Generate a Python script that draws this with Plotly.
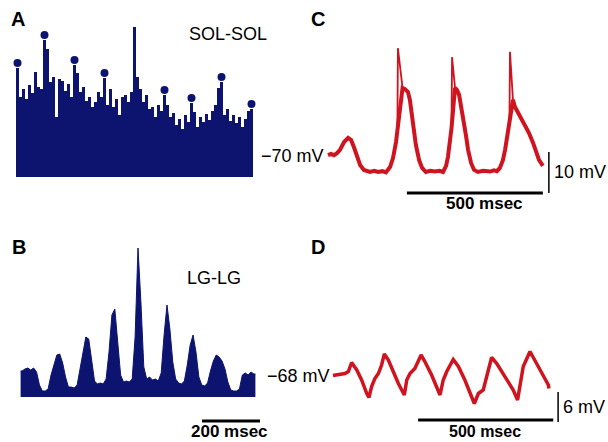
import plotly.graph_objects as go

W, H = 608, 442
NAVY = "#0c1470"
RED = "#cf1420"
FONT = "Liberation Sans, Arial, Helvetica, sans-serif"

# ---- A: SOL-SOL correlogram (counts per bin) ----
sol_counts = [109, 80, 88, 78, 92, 84, 105, 90, 88, 137,
              128, 95, 100, 60, 98, 96, 86, 93, 80, 112,
              104, 85, 90, 76, 80, 70, 75, 85, 80, 99,
              72, 88, 70, 78, 62, 80, 82, 75, 85, 150,
              100, 88, 75, 82, 68, 70, 60, 72, 66, 82,
              72, 60, 64, 52, 58, 48, 62, 55, 74, 65,
              50, 60, 55, 63, 57, 66, 72, 89, 95, 62,
              68, 56, 62, 54, 60, 50, 58, 66, 68]
sol_peak_bins = [0, 9, 19, 29, 49, 58, 68, 78]

# ---- B: LG-LG correlogram (10-ms bins) ----
lg_lags = list(range(-400, 401, 10))
lg_counts = [26, 28, 29, 27, 29, 25, 12, 6, 6, 8,
             22, 32, 42, 43, 34, 20, 10, 10, 9, 12,
             28, 44, 60, 58, 38, 16, 13, 14, 13, 18,
             45, 82, 88, 55, 22, 15, 16, 15, 18, 60,
             149, 95, 30, 18, 20, 17, 18, 16, 24, 62,
             92, 68, 35, 18, 14, 13, 16, 32, 52, 62,
             45, 20, 12, 11, 14, 26, 36, 42, 40, 36,
             28, 15, 7, 6, 6, 8, 22, 24, 22, 25, 23]

# ---- C: SOL membrane potential (ms, mV) ----
c_t = [0, 11, 22, 33, 44, 59, 74, 85, 96, 107, 118, 132, 154, 170, 184, 200, 213,
       228, 239, 250, 255, 274, 283, 294, 301, 309, 316, 323, 335, 346, 360, 376, 393, 410, 423,
       434, 441, 448, 454, 467, 474, 482, 489, 496, 507, 515, 526, 537, 551, 570, 596, 610, 621,
       632, 643, 651, 658, 667, 680, 687, 698, 709, 724, 739, 754, 765, 776, 783, 790]
c_v = [-69.8, -69.5, -69.8, -69.3, -68.5, -66.6, -65.6, -66.1, -68.0, -70.5, -72.2, -73.4, -73.9, -73.6, -73.9, -73.7, -74.0,
       -72.7, -70.5, -66.6, -64.1, -53.4, -53.7, -54.4, -56.3, -60.0, -63.7, -67.3, -71.0, -72.9, -73.9, -73.6, -73.8, -73.6, -73.9,
       -72.4, -70.2, -66.6, -63.2, -53.4, -53.9, -55.1, -57.6, -60.7, -64.9, -68.5, -71.7, -73.4, -73.9, -73.6, -73.8, -73.5, -73.7,
       -72.9, -71.0, -68.5, -65.6, -62.4, -56.3, -58.0, -59.3, -60.7, -62.4, -64.4, -66.8, -69.0, -71.0, -71.7, -72.4]
# truncated action potentials
c_spike_t = [[255, 257, 274], [454, 456, 467], [667, 669, 680]]
c_spike_v = [[-64.1, -43.7, -53.4], [-63.2, -45.9, -53.4], [-62.4, -44.6, -56.3]]

# ---- D: LG membrane potential (ms, mV) ----
d_t = [0, 44, 57, 69, 88, 106, 125, 133, 143, 155, 168, 180, 190, 205, 223, 242, 264,
       273, 285, 303, 326, 340, 365, 390, 396, 408, 421, 445, 464, 488, 513, 523,
       538, 556, 575, 587, 606, 636, 667, 683, 692, 704, 729, 747, 772, 797, 799]
d_v = [-68.1, -67.7, -67.3, -65.5, -67.0, -69.0, -71.7, -72.5, -70.3, -68.7, -67.7, -66.0, -63.8, -65.0, -67.3, -69.7, -72.0,
       -69.0, -67.7, -66.7, -64.0, -65.3, -68.0, -71.0, -72.0, -69.0, -67.3, -64.9, -66.3, -69.0, -72.3, -73.7,
       -71.7, -71.0, -67.0, -64.5, -65.7, -68.3, -71.0, -73.0, -69.7, -66.3, -63.3, -65.0, -67.3, -70.0, -70.7]


def xdom(x0, x1):
    return [x0 / W, x1 / W]


def ydom(y0, y1):
    return [1 - y1 / H, 1 - y0 / H]


fig = go.Figure()

# A: correlogram bars with markers over the periodic peaks
fig.add_trace(go.Bar(x=list(range(len(sol_counts))), y=sol_counts, marker=dict(color=NAVY, line_width=0),
                     width=1.0, xaxis="x", yaxis="y"))
fig.add_trace(go.Scatter(x=sol_peak_bins, y=[sol_counts[i] + 5 for i in sol_peak_bins], mode="markers",
                         marker=dict(color=NAVY, size=8), xaxis="x", yaxis="y"))

# B: correlogram drawn as a filled profile
b_x = [lg_lags[0] - 5] + lg_lags + [lg_lags[-1] + 5]
b_y = [lg_counts[0]] + lg_counts + [lg_counts[-1]]
fig.add_trace(go.Scatter(x=b_x, y=b_y, mode="lines", fill="tozeroy", fillcolor=NAVY,
                         line=dict(color=NAVY, width=1), xaxis="x2", yaxis="y2"))

# C
fig.add_trace(go.Scatter(x=c_t, y=c_v, mode="lines", line=dict(color=RED, width=4), xaxis="x3", yaxis="y3"))
for st, sv in zip(c_spike_t, c_spike_v):
    fig.add_trace(go.Scatter(x=st, y=sv, mode="lines", line=dict(color=RED, width=1.8), xaxis="x3", yaxis="y3"))
# D
fig.add_trace(go.Scatter(x=d_t, y=d_v, mode="lines", line=dict(color=RED, width=3.5), xaxis="x4", yaxis="y4"))

hidden = dict(visible=False, fixedrange=True)
fig.update_layout(
    width=W, height=H, margin=dict(l=0, r=0, t=0, b=0),
    paper_bgcolor="white", plot_bgcolor="rgba(0,0,0,0)",
    showlegend=False, bargap=0,
    xaxis=dict(domain=xdom(10, 260), range=[-2.5, 80.83], anchor="y", **hidden),
    yaxis=dict(domain=ydom(20, 180), range=[-3, 157], anchor="x", **hidden),
    xaxis2=dict(domain=xdom(10, 270), range=[-441.6, 455.4], anchor="y2", **hidden),
    yaxis2=dict(domain=ydom(240, 442), range=[-45, 157], anchor="x2", **hidden),
    xaxis3=dict(domain=xdom(300, 600), range=[-103, 1000], anchor="y3", **hidden),
    yaxis3=dict(domain=ydom(20, 210), range=[-83.17, -36.83], anchor="x3", **hidden),
    xaxis4=dict(domain=xdom(300, 600), range=[-122, 988], anchor="y4", **hidden),
    yaxis4=dict(domain=ydom(230, 442), range=[-81.4, -39], anchor="x4", **hidden),
)

# scale bars
bars = [
    ("x2", "y2", 221, -24, 421, -24, 3),
    ("x3", "y3", 290, -79, 790, -79, 3),
    ("x3", "y3", 812, -79, 812, -69, 1.5),
    ("x4", "y4", 315, -77, 815, -77, 3),
    ("x4", "y4", 833, -77.4, 833, -71.4, 1.5),
]
for xr, yr, x0, y0, x1, y1, w in bars:
    fig.add_shape(type="line", xref=xr, yref=yr, x0=x0, y0=y0, x1=x1, y1=y1,
                  line=dict(color="black", width=w))


def label(text, x, y, xref="paper", yref="paper", size=18, bold=False, xanchor="center"):
    fig.add_annotation(text=f"<b>{text}</b>" if bold else text, x=x, y=y, xref=xref, yref=yref,
                       showarrow=False, xanchor=xanchor, yanchor="middle",
                       font=dict(family=FONT, size=size, color="black"))


# panel letters and titles
label("A", 17.5 / W, 1 - 19.5 / H, size=20, bold=True)
label("B", 18.5 / W, 1 - 247 / H, size=20, bold=True)
label("C", 318 / W, 1 - 19.5 / H, size=20, bold=True)
label("D", 318 / W, 1 - 247 / H, size=20, bold=True)
label("SOL-SOL", 228 / W, 1 - 34 / H, size=18)
label("LG-LG", 214 / W, 1 - 278 / H, size=18)

# potentials and scale-bar labels
label("−70 mV", -8, -70, "x3", "y3", size=18, xanchor="right")
label("−68 mV", -2, -68.2, "x4", "y4", size=18, xanchor="right")
label("10 mV", 825, -74, "x3", "y3", size=18, xanchor="left")
label("500 msec", 577, -81.6, "x3", "y3", size=17, bold=True)
label("6 mV", 845, -74.4, "x4", "y4", size=18, xanchor="left")
label("500 msec", 562, -79.3, "x4", "y4", size=16, bold=True)
label("200 msec", 314, -34, "x2", "y2", size=17, bold=True)

fig.write_html("out.html")
